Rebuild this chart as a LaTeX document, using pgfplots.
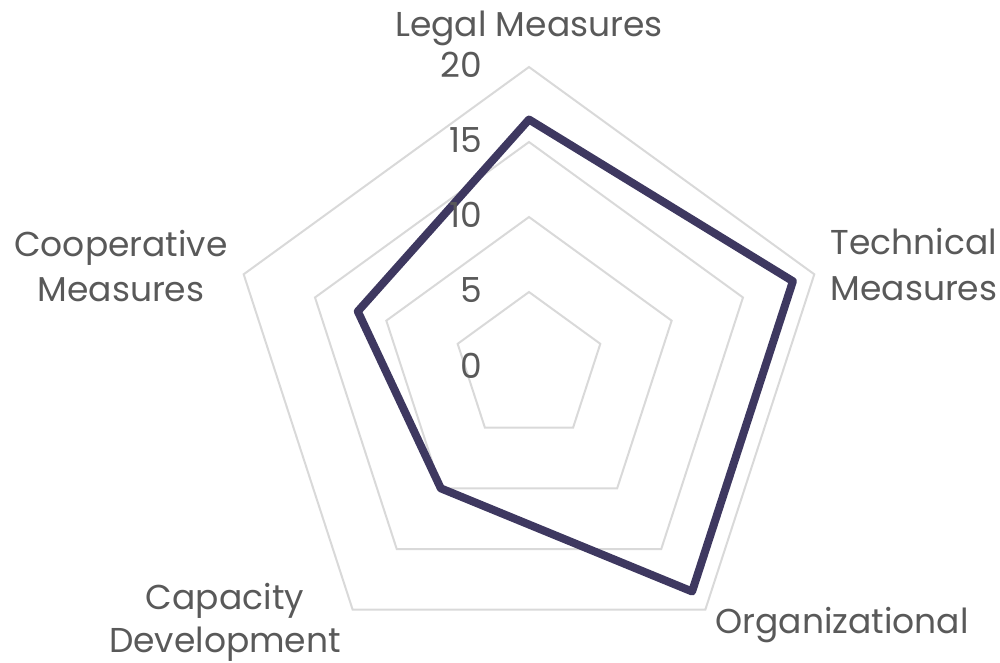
\documentclass[border=0pt]{standalone}
\usepackage{fontspec}
\setmainfont{Poppins}
\usepackage{pgfplots}
\pgfplotsset{compat=1.18}
\usepgfplotslibrary{polar}
\definecolor{gridc}{RGB}{217,217,217}
\definecolor{linec}{RGB}{62,56,96}
\definecolor{txt}{RGB}{89,89,89}
\begin{document}
\begin{tikzpicture}
\useasboundingbox (-211.6pt,-118.4pt) rectangle (188.4pt,146.8pt);
\begin{polaraxis}[
  hide axis, scale only axis, width=240pt,
  ymin=0, ymax=20,
  at={(0pt,0pt)}, anchor=center, clip=false]
\addplot[gridc, line width=0.8pt] coordinates {(90,5)(18,5)(306,5)(234,5)(162,5)} -- cycle;
\addplot[gridc, line width=0.8pt] coordinates {(90,10)(18,10)(306,10)(234,10)(162,10)} -- cycle;
\addplot[gridc, line width=0.8pt] coordinates {(90,15)(18,15)(306,15)(234,15)(162,15)} -- cycle;
\addplot[gridc, line width=0.8pt] coordinates {(90,20)(18,20)(306,20)(234,20)(162,20)} -- cycle;
\addplot[linec, line width=3.2pt, line join=round] coordinates {(90,16.5)(18,18.5)(306,18.5)(234,10)(162,12)} -- cycle;
\end{polaraxis}
\begin{scope}[every node/.style={text=txt, font=\fontsize{13.8}{18}\selectfont, inner sep=0pt}]
\node[anchor=base east] at (-18.4pt,115.6pt) {20};
\node[anchor=base east] at (-18.4pt,85.6pt) {15};
\node[anchor=base east] at (-18.4pt,55.6pt) {10};
\node[anchor=base east] at (-18.4pt,25.6pt) {5};
\node[anchor=base east] at (-18.4pt,-4.4pt) {0};
\node[anchor=base] at (0pt,132pt) {Legal Measures};
\node[anchor=base] at (154pt,44.8pt) {Technical};
\node[anchor=base] at (154pt,26.8pt) {Measures};
\node[anchor=base west] at (74.4pt,-106.4pt) {Organizational};
\node[anchor=base] at (-121.6pt,-97.2pt) {Capacity};
\node[anchor=base] at (-121.6pt,-114pt) {Development};
\node[anchor=base] at (-163.2pt,44pt) {Cooperative};
\node[anchor=base] at (-163.2pt,26pt) {Measures};
\end{scope}
\end{tikzpicture}
\end{document}
